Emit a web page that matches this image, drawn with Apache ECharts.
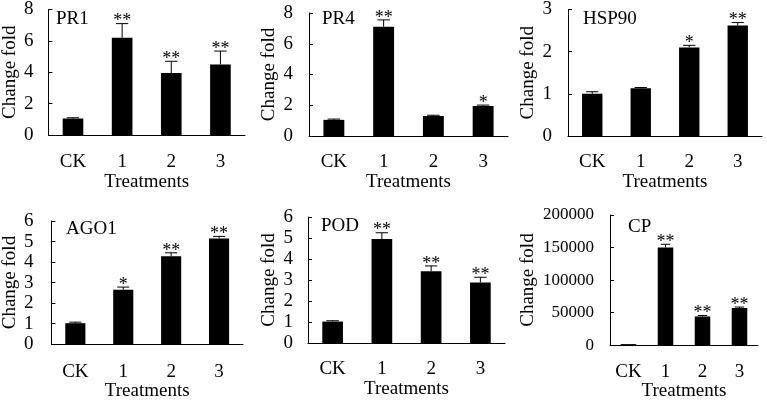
<!DOCTYPE html>
<html>
<head>
<meta charset="utf-8">
<script src="https://cdn.jsdelivr.net/npm/echarts@6/dist/echarts.min.js"></script>
<style>
html,body{margin:0;padding:0;background:#fff;}
#main{width:767px;height:402px;}
</style>
</head>
<body>
<div id="main"></div>
<script>
// ---- data ----
var categories = ['CK', '1', '2', '3'];

var pr1Values = [1.05, 6.2, 3.95, 4.5];
var pr1Errors = [0.05, 0.9, 0.75, 0.85];
var pr1Sig = ['', '**', '**', '**'];

var pr4Values = [1.05, 7.1, 1.3, 1.95];
var pr4Errors = [0.05, 0.45, 0.05, 0.06];
var pr4Sig = ['', '**', '', '*'];

var hsp90Values = [1.0, 1.13, 2.1, 2.62];
var hsp90Errors = [0.05, 0.02, 0.05, 0.07];
var hsp90Sig = ['', '', '*', '**'];

var ago1Values = [1.02, 2.65, 4.28, 5.15];
var ago1Errors = [0.05, 0.13, 0.17, 0.1];
var ago1Sig = ['', '*', '**', '**'];

var podValues = [1.02, 4.95, 3.42, 2.88];
var podErrors = [0.04, 0.3, 0.25, 0.25];
var podSig = ['', '**', '**', '**'];

var cpValues = [1, 150000, 44000, 57000];
var cpErrors = [0, 5000, 1500, 1500];
var cpSig = ['', '**', '**', '**'];

var yTicks = {
  PR1: [0, 8, 2], PR4: [0, 8, 2], HSP90: [0, 3, 1],
  AGO1: [0, 6, 1], POD: [0, 6, 1], CP: [0, 200000, 50000]
};

var panels = [
  {name: 'PR1', values: pr1Values, errors: pr1Errors, sig: pr1Sig,
   grid: {left: 47, top: 9, width: 198, height: 126}, title: [51, 5],
   yMargin: 15, yGap: 28, yFont: 19, xMargin: 18, xGap: 38},
  {name: 'PR4', values: pr4Values, errors: pr4Errors, sig: pr4Sig,
   grid: {left: 309, top: 13, width: 199, height: 123}, title: [317, 5],
   yMargin: 16, yGap: 30, yFont: 19, xMargin: 17, xGap: 35},
  {name: 'HSP90', values: hsp90Values, errors: hsp90Errors, sig: hsp90Sig,
   grid: {left: 568, top: 9, width: 194, height: 127}, title: [578, 5],
   yMargin: 16, yGap: 30, yFont: 19, xMargin: 17, xGap: 37},
  {name: 'AGO1', values: ago1Values, errors: ago1Errors, sig: ago1Sig,
   grid: {left: 49, top: 221, width: 194, height: 125}, title: [61, 215],
   yMargin: 18, yGap: 30, yFont: 19, xMargin: 18, xGap: 37},
  {name: 'POD', values: podValues, errors: podErrors, sig: podSig,
   grid: {left: 308, top: 217, width: 197, height: 126}, title: [316, 212],
   yMargin: 15, yGap: 29, yFont: 19, xMargin: 17, xGap: 37},
  {name: 'CP', values: cpValues, errors: cpErrors, sig: cpSig,
   grid: {left: 610, top: 215, width: 148, height: 131}, title: [623, 213],
   yMargin: 16, yGap: 72, yFont: 17, xMargin: 17, xGap: 36}
];

var FONT = '"Liberation Serif", "Times New Roman", serif';
var grids = [], xAxes = [], yAxes = [], series = [], titles = [];

panels.forEach(function (p, i) {
  var t = yTicks[p.name];
  grids.push(Object.assign({containLabel: false}, p.grid));
  titles.push({
    text: p.name, left: p.title[0], top: p.title[1],
    textStyle: {fontFamily: FONT, fontSize: 19, fontWeight: 'normal', color: '#000'}
  });
  xAxes.push({
    type: 'category', gridIndex: i, data: categories,
    name: 'Treatments', nameLocation: 'middle', nameGap: p.xGap,
    nameTextStyle: {fontFamily: FONT, fontSize: 19, color: '#000'},
    axisLine: {lineStyle: {color: '#000', width: 1}},
    axisTick: {inside: true, length: 5, lineStyle: {color: '#000'}},
    axisLabel: {fontFamily: FONT, fontSize: 19, color: '#000', margin: p.xMargin}
  });
  yAxes.push({
    type: 'value', gridIndex: i, min: t[0], max: t[1], interval: t[2],
    name: 'Change fold', nameLocation: 'middle', nameRotate: 90, nameGap: p.yGap,
    nameTextStyle: {fontFamily: FONT, fontSize: 19, color: '#000'},
    axisLine: {show: true, lineStyle: {color: '#000', width: 1}},
    axisTick: {show: true, inside: true, length: 4, lineStyle: {color: '#000'}},
    splitLine: {show: false},
    axisLabel: {fontFamily: FONT, fontSize: p.yFont, color: '#000', margin: p.yMargin,
      formatter: function (v) { return String(v); }}
  });
  series.push({
    type: 'bar', xAxisIndex: i, yAxisIndex: i, data: p.values,
    barWidth: '42%', barMinHeight: 1, itemStyle: {color: '#000'}, silent: true, animation: false
  });
  series.push({
    type: 'custom', xAxisIndex: i, yAxisIndex: i, animation: false, silent: true,
    data: p.values.map(function (v, k) { return [k, v, p.errors[k]]; }),
    renderItem: (function (sig) {
      return function (params, api) {
        var x = api.value(0), v = api.value(1), e = api.value(2);
        var base = api.coord([x, v]);
        var top = api.coord([x, v + e]);
        var bw = api.size([1, 0])[0] * 0.42;
        var half = bw * 0.3;
        var children = [];
        if (e > 0) {
          children.push({type: 'line', shape: {x1: base[0], y1: base[1], x2: top[0], y2: top[1]},
            style: {stroke: '#000', lineWidth: 1}});
          children.push({type: 'line', shape: {x1: top[0] - half, y1: top[1], x2: top[0] + half, y2: top[1]},
            style: {stroke: '#000', lineWidth: 1}});
        }
        var s = sig[params.dataIndex];
        if (s) {
          children.push({type: 'text', x: top[0], y: top[1] + 7,
            style: {text: s, fontFamily: FONT, fontSize: 18, fill: '#000',
              align: 'center', verticalAlign: 'bottom'}});
        }
        return {type: 'group', children: children};
      };
    })(p.sig)
  });
});

var chart = echarts.init(document.getElementById('main'));
chart.setOption({
  animation: false,
  backgroundColor: '#fff',
  title: titles,
  grid: grids,
  xAxis: xAxes,
  yAxis: yAxes,
  series: series
});
</script>
</body>
</html>
